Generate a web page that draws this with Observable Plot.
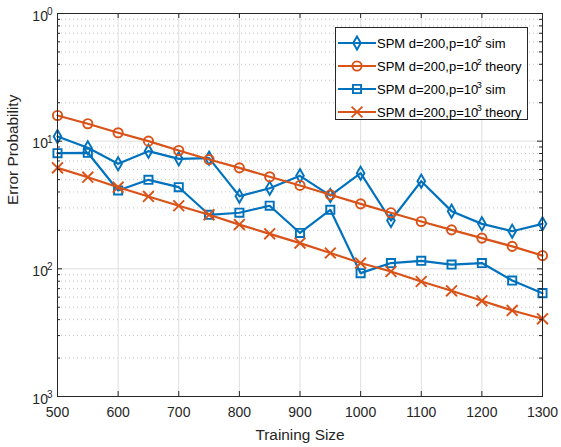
<!DOCTYPE html>
<html><head><meta charset="utf-8">
<script src="https://cdn.jsdelivr.net/npm/d3@7"></script>
<script src="https://cdn.jsdelivr.net/npm/@observablehq/plot@0.6"></script>
<style>
body{margin:0;background:#fff;font-family:"Liberation Sans",Arial,Helvetica,sans-serif}
#wrap{position:relative;width:561px;height:447px}
#legend{position:absolute;left:335px;top:27px}
</style></head><body><div id="wrap"></div>
<script>
// ---- data ----
const trainingSize = [500,550,600,650,700,750,800,850,900,950,1000,1050,1100,1150,1200,1250,1300];
const simP2    = [0.1088,0.0887,0.0665,0.0835,0.0727,0.0736,0.0371,0.0428,0.0535,0.0375,0.0561,0.0239,0.0486,0.0283,0.0225,0.0197,0.0225];
const theoryP2 = [0.159,0.137,0.1163,0.100,0.0845,0.0718,0.0618,0.0526,0.0450,0.0380,0.0323,0.0275,0.0235,0.0202,0.0174,0.0150,0.0127];
const simP3    = [0.0805,0.0811,0.0411,0.0498,0.0436,0.0265,0.0275,0.0312,0.0191,0.0290,0.00925,0.0111,0.01156,0.0108,0.0111,0.0081,0.00645];
const theoryP3 = [0.0618,0.0522,0.0436,0.0369,0.0312,0.0265,0.0222,0.0188,0.0159,0.0133,0.0111,0.00953,0.00796,0.00673,0.00562,0.00472,0.00406];
const seriesBase = ["SPM d=200,p=10","SPM d=200,p=10","SPM d=200,p=10","SPM d=200,p=10"];
const seriesExp  = ["2","2","3","3"];
const seriesTail = [" sim"," theory"," sim"," theory"];
const xTicks = [500,600,700,800,900,1000,1100,1200,1300];
const yTicks = [0.001,0.01,0.1,1];
const yTickLabels = ["10^3","10^2","10^1","10^0"];
const xLabel = "Training Size";
const yLabel = "Error Probability";

// ---- styles ----
const BLUE = "#0072BD", ORANGE = "#D95319";
const styles = [
  {color: BLUE, symbol: "diamond", r: 4.0},
  {color: ORANGE, symbol: "circle", r: 4.6},
  {color: BLUE, symbol: "square", r: 4.6},
  {color: ORANGE, symbol: "times", r: 5.0}
];
const seriesValues = [simP2, theoryP2, simP3, theoryP3];
const series = seriesValues.map((vals, i) => vals.map((v, j) => ({x: trainingSize[j], y: v, s: i})));

const minorY = [];
for (const dec of [0.001, 0.01, 0.1]) for (let k = 2; k <= 9; k++) minorY.push(+(k * dec).toPrecision(3));

const W = 561, H = 447, mL = 57, mR = 19, mT = 13, mB = 51;
const pw = W - mL - mR, ph = H - mT - mB;
const TICK = "#262626";

const marks = [
  Plot.gridY(minorY, {stroke: "#b8b8b8", strokeOpacity: 1, strokeDasharray: "1,3", strokeWidth: 0.8}),
  Plot.gridX(xTicks, {stroke: "#dedede", strokeOpacity: 1}),
  Plot.gridY(yTicks, {stroke: "#dedede", strokeOpacity: 1}),
];
series.forEach((d, i) => {
  const st = styles[i];
  marks.push(Plot.line(d, {x: "x", y: "y", stroke: st.color, strokeWidth: 2.2}));
  marks.push(Plot.dot(d, {x: "x", y: "y", stroke: st.color, fill: "none", strokeWidth: 1.9, symbol: st.symbol, r: st.r}));
});
marks.push(
  // inward ticks
  Plot.ruleY(yTicks, {insetRight: pw - 5, stroke: TICK}),
  Plot.ruleY(yTicks, {insetLeft: pw - 5, stroke: TICK}),
  Plot.ruleY(minorY, {insetRight: pw - 3, stroke: TICK}),
  Plot.ruleY(minorY, {insetLeft: pw - 3, stroke: TICK}),
  Plot.ruleX(xTicks, {insetTop: ph - 5, stroke: TICK}),
  Plot.ruleX(xTicks, {insetBottom: ph - 5, stroke: TICK}),
  Plot.frame({stroke: TICK, strokeWidth: 1}),
  Plot.axisX(xTicks, {tickSize: 0, tickPadding: 11, fontSize: 14, fill: TICK, label: null, tickFormat: d => String(d)}),
  Plot.axisY(yTicks, {tickSize: 0, tickPadding: 5, fontSize: 14, fill: TICK, label: null, tickFormat: d => yTickLabels[yTicks.indexOf(d)]}),
  Plot.text([xLabel], {frameAnchor: "bottom", dy: 43, lineAnchor: "bottom", fontSize: 15.4, fill: TICK}),
  Plot.text([yLabel], {frameAnchor: "left", dx: -39.5, rotate: -90, lineAnchor: "bottom", fontSize: 15.4, fill: TICK})
);

const chart = Plot.plot({
  width: W, height: H, marginLeft: mL, marginRight: mR, marginTop: mT, marginBottom: mB,
  style: {fontFamily: '"Liberation Sans", Arial, sans-serif', background: "#fff", overflow: "visible"},
  x: {domain: [500, 1300]},
  y: {type: "log", domain: [0.001, 1]},
  marks
});
document.getElementById("wrap").appendChild(chart);

// superscript y tick labels
d3.select(chart).selectAll('g[aria-label="y-axis tick label"] text').each(function () {
  const t = d3.select(this);
  const s = t.text();
  const [b, e] = s.split("^");
  t.text(null).attr("y", "0.5em");
  t.append("tspan").text(b);
  t.append("tspan").attr("dx", "-1").attr("dy", "-0.55em").attr("font-size", "10").text(e);
});

// legend
const lg = d3.select("#wrap").append("svg").attr("id", "legend")
  .attr("width", 194).attr("height", 94)
  .style("font-family", '"Liberation Sans", Arial, sans-serif');
lg.append("rect").attr("x", 0.5).attr("y", 0.5).attr("width", 192).attr("height", 92)
  .attr("fill", "#fff").attr("stroke", TICK).attr("stroke-width", 1);
const symMap = {diamond: d3.symbolDiamond, circle: d3.symbolCircle, square: d3.symbolSquare, times: d3.symbolTimes};
styles.forEach((st, i) => {
  const cy = 16 + i * 23;
  const g = lg.append("g");
  g.append("line").attr("x1", 3).attr("x2", 41).attr("y1", cy).attr("y2", cy)
    .attr("stroke", st.color).attr("stroke-width", 2.2);
  g.append("path").attr("d", d3.symbol(symMap[st.symbol], Math.PI * st.r * st.r)())
    .attr("transform", `translate(22,${cy})`).attr("fill", "none")
    .attr("stroke", st.color).attr("stroke-width", 1.9);
  const tx = g.append("text").attr("x", 42).attr("y", cy + 4.6).attr("font-size", 13).attr("fill", "#000");
  tx.append("tspan").text(seriesBase[i]);
  tx.append("tspan").attr("dx", -1.5).attr("dy", -6).attr("font-size", 9).text(seriesExp[i]);
  tx.append("tspan").attr("dy", 6).text(seriesTail[i]);
});
</script>
</body></html>
